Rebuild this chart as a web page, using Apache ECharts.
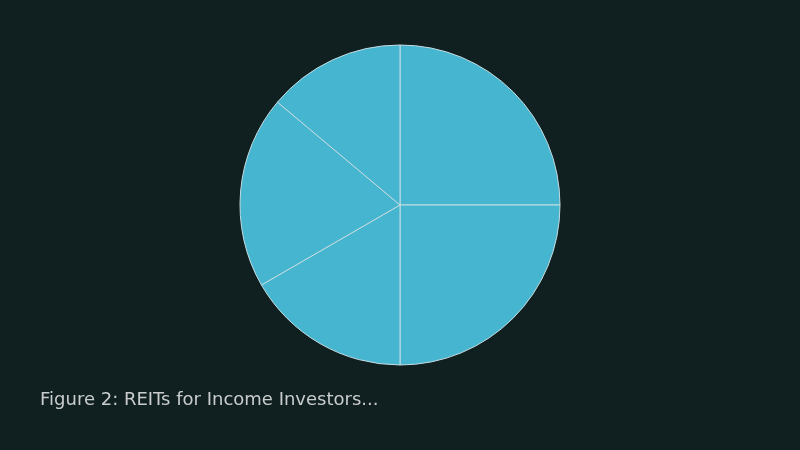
<!DOCTYPE html>
<html>
<head>
<meta charset="utf-8">
<script src="https://cdn.jsdelivr.net/npm/echarts@6/dist/echarts.min.js"></script>
<style>
  html, body { margin: 0; padding: 0; background: #101f20; }
  #chart { width: 800px; height: 450px; }
</style>
</head>
<body>
<div id="chart"></div>
<script>
// slices, clockwise from 12 o'clock
const categories = ['A', 'B', 'C', 'D', 'E'];
const values = [90, 90, 60, 70, 50];
const caption = 'Figure 2: REITs for Income Investors...';

const chart = echarts.init(document.getElementById('chart'));
chart.setOption({
  backgroundColor: '#101f20',
  animation: false,
  title: {
    text: caption,
    left: 40,
    top: 391,
    padding: 0,
    textStyle: {
      color: '#c8cccc',
      fontFamily: "'DejaVu Sans', sans-serif",
      fontSize: 18,
      fontWeight: 'normal'
    }
  },
  tooltip: { trigger: 'item' },
  series: [
    {
      type: 'pie',
      center: [400, 205],
      radius: [0, 160],
      startAngle: 90,
      clockwise: true,
      label: { show: false },
      labelLine: { show: false },
      itemStyle: {
        color: '#45b5d0',
        borderColor: '#c5dde3',
        borderWidth: 1
      },
      emphasis: { disabled: true },
      data: categories.map((name, i) => ({ name: name, value: values[i] }))
    }
  ]
});
</script>
</body>
</html>
